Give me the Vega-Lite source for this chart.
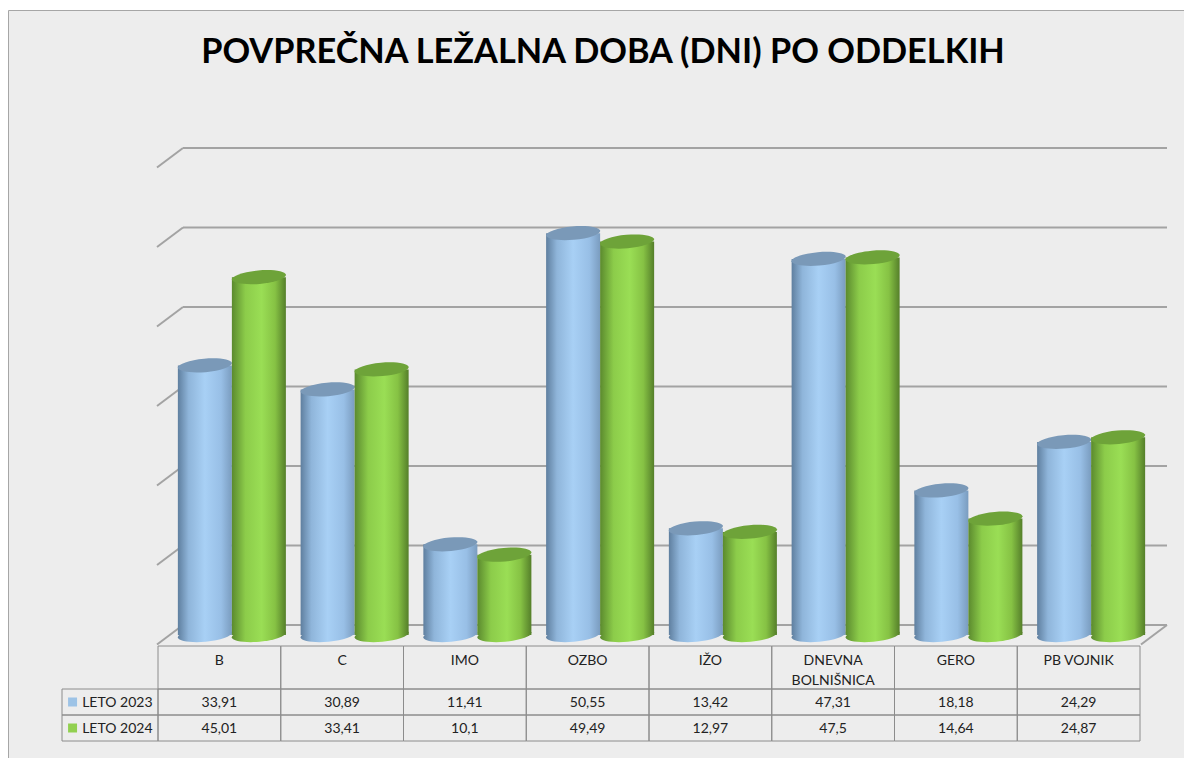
{
"$schema":"https://vega.github.io/schema/vega-lite/v6.json",
"width":1176,"height":748,
"autosize":{"type":"none"},
"padding":{"left":8,"top":10,"right":0,"bottom":0},
"background":"#ffffff",
"view":{"fill":"#ededed","stroke":"#a6a6a6","strokeWidth":1},
"config":{"locale":{"number":{"decimal":",","thousands":".","grouping":[3],"currency":["","€"]}}},
"title":{"text":"POVPREČNA LEŽALNA DOBA (DNI) PO ODDELKIH","font":"Lato","fontSize":34.3,"fontWeight":"bold","color":"#000000","anchor":"middle","dx":7,"offset":-60,"baseline":"top"},
"datasets":{
"oddelki":[
{"oddelek":"B","leto":"LETO 2023","vrednost":33.91},
{"oddelek":"C","leto":"LETO 2023","vrednost":30.89},
{"oddelek":"IMO","leto":"LETO 2023","vrednost":11.41},
{"oddelek":"OZBO","leto":"LETO 2023","vrednost":50.55},
{"oddelek":"IŽO","leto":"LETO 2023","vrednost":13.42},
{"oddelek":"DNEVNA\nBOLNIŠNICA","leto":"LETO 2023","vrednost":47.31},
{"oddelek":"GERO","leto":"LETO 2023","vrednost":18.18},
{"oddelek":"PB VOJNIK","leto":"LETO 2023","vrednost":24.29},
{"oddelek":"B","leto":"LETO 2024","vrednost":45.01},
{"oddelek":"C","leto":"LETO 2024","vrednost":33.41},
{"oddelek":"IMO","leto":"LETO 2024","vrednost":10.1},
{"oddelek":"OZBO","leto":"LETO 2024","vrednost":49.49},
{"oddelek":"IŽO","leto":"LETO 2024","vrednost":12.97},
{"oddelek":"DNEVNA\nBOLNIŠNICA","leto":"LETO 2024","vrednost":47.5},
{"oddelek":"GERO","leto":"LETO 2024","vrednost":14.64},
{"oddelek":"PB VOJNIK","leto":"LETO 2024","vrednost":24.87}
],
"mreza":[{"v":0},{"v":10},{"v":20},{"v":30},{"v":40},{"v":50},{"v":60}]
},
"resolve":{"scale":{"x":"independent","y":"independent"}},
"layer":[
{"data":{"name":"mreza"},"mark":{"type":"rule","stroke":"#a3a3a3","strokeWidth":2},
 "encoding":{"x":{"datum":0,"type":"quantitative","scale":{"domain":[0,1],"range":[175,1159]},"axis":null},"x2":{"datum":1},
 "y":{"field":"v","type":"quantitative","scale":{"domain":[0,60],"range":[615,138]},"axis":null}}},
{"data":{"name":"mreza"},"mark":{"type":"point","shape":"M0,0L-1,0.75","size":2704,"filled":false,"stroke":"#a3a3a3","strokeWidth":2,"opacity":1},
 "encoding":{"x":{"datum":0,"type":"quantitative","scale":{"domain":[0,1],"range":[175,1159]},"axis":null},
 "y":{"field":"v","type":"quantitative","scale":{"domain":[0,60],"range":[615,138]},"axis":null}}},
{"data":{"name":"mreza"},"transform":[{"filter":"datum.v===0"}],"mark":{"type":"point","shape":"M0,0L-1,0.75","size":2704,"filled":false,"stroke":"#a3a3a3","strokeWidth":2,"opacity":1},
 "encoding":{"x":{"datum":1,"type":"quantitative","scale":{"domain":[0,1],"range":[175,1159]},"axis":null},
 "y":{"field":"v","type":"quantitative","scale":{"domain":[0,60],"range":[615,138]},"axis":null}}},

{"data":{"name":"oddelki"},"transform":[{"filter":"datum.leto==='LETO 2023'"}],"mark":{"type":"point","shape":"M-1,0.09A1.005,0.26,-5,0,0,1,-0.09A1.005,0.26,-5,0,0,-1,0.09Z","size":2950,"filled":true,"opacity":1,"fill":{"gradient":"linear","x1":0,"x2":1,"y1":0,"y2":0,"stops":[{"offset":0,"color":"#5f7f9f"},{"offset":0.2,"color":"#8fb5da"},{"offset":0.5,"color":"#a8d0f5"},{"offset":0.8,"color":"#98bfe6"},{"offset":1,"color":"#7a9cbf"}]}},
 "encoding":{"x":{"field":"oddelek","type":"nominal","scale":{"type":"band","domain":["B","C","IMO","OZBO","IŽO","DNEVNA\nBOLNIŠNICA","GERO","PB VOJNIK"],"range":[162.5,1144.5],"paddingInner":0.12,"paddingOuter":0.06},"axis":null},
 "xOffset":{"field":"leto","type":"nominal","scale":{"domain":["LETO 2023","LETO 2024"],"paddingInner":0,"paddingOuter":0}},
 "y":{"datum":0,"type":"quantitative","scale":{"domain":[0,60],"range":[625,148]},"axis":null}}},
{"data":{"name":"oddelki"},"transform":[{"filter":"datum.leto==='LETO 2023'"}],"mark":{"type":"bar","fill":{"gradient":"linear","x1":0,"x2":1,"y1":0,"y2":0,"stops":[{"offset":0,"color":"#5f7f9f"},{"offset":0.2,"color":"#8fb5da"},{"offset":0.5,"color":"#a8d0f5"},{"offset":0.8,"color":"#98bfe6"},{"offset":1,"color":"#7a9cbf"}]}},
 "encoding":{"x":{"field":"oddelek","type":"nominal","scale":{"type":"band","domain":["B","C","IMO","OZBO","IŽO","DNEVNA\nBOLNIŠNICA","GERO","PB VOJNIK"],"range":[162.5,1144.5],"paddingInner":0.12,"paddingOuter":0.06},"axis":null},
 "xOffset":{"field":"leto","type":"nominal","scale":{"domain":["LETO 2023","LETO 2024"],"paddingInner":0,"paddingOuter":0}},
 "y":{"field":"vrednost","type":"quantitative","scale":{"domain":[0,60],"range":[625,148]},"axis":null}}},
{"data":{"name":"oddelki"},"transform":[{"filter":"datum.leto==='LETO 2023'"}],"mark":{"type":"point","shape":"M-1,0.09A1.005,0.26,-5,0,0,1,-0.09A1.005,0.26,-5,0,0,-1,0.09Z","size":2950,"filled":true,"opacity":1,"fill":"#7a99b8"},
 "encoding":{"x":{"field":"oddelek","type":"nominal","scale":{"type":"band","domain":["B","C","IMO","OZBO","IŽO","DNEVNA\nBOLNIŠNICA","GERO","PB VOJNIK"],"range":[162.5,1144.5],"paddingInner":0.12,"paddingOuter":0.06},"axis":null},
 "xOffset":{"field":"leto","type":"nominal","scale":{"domain":["LETO 2023","LETO 2024"],"paddingInner":0,"paddingOuter":0}},
 "y":{"field":"vrednost","type":"quantitative","scale":{"domain":[0,60],"range":[625,148]},"axis":null}}},

{"data":{"name":"oddelki"},"transform":[{"filter":"datum.leto==='LETO 2024'"}],"mark":{"type":"point","shape":"M-1,0.09A1.005,0.26,-5,0,0,1,-0.09A1.005,0.26,-5,0,0,-1,0.09Z","size":2950,"filled":true,"opacity":1,"fill":{"gradient":"linear","x1":0,"x2":1,"y1":0,"y2":0,"stops":[{"offset":0,"color":"#5b8a2e"},{"offset":0.25,"color":"#8ccc4a"},{"offset":0.55,"color":"#9ade55"},{"offset":0.8,"color":"#86c244"},{"offset":1,"color":"#557f2a"}]}},
 "encoding":{"x":{"field":"oddelek","type":"nominal","scale":{"type":"band","domain":["B","C","IMO","OZBO","IŽO","DNEVNA\nBOLNIŠNICA","GERO","PB VOJNIK"],"range":[162.5,1144.5],"paddingInner":0.12,"paddingOuter":0.06},"axis":null},
 "xOffset":{"field":"leto","type":"nominal","scale":{"domain":["LETO 2023","LETO 2024"],"paddingInner":0,"paddingOuter":0}},
 "y":{"datum":0,"type":"quantitative","scale":{"domain":[0,60],"range":[625,148]},"axis":null}}},
{"data":{"name":"oddelki"},"transform":[{"filter":"datum.leto==='LETO 2024'"}],"mark":{"type":"bar","fill":{"gradient":"linear","x1":0,"x2":1,"y1":0,"y2":0,"stops":[{"offset":0,"color":"#5b8a2e"},{"offset":0.25,"color":"#8ccc4a"},{"offset":0.55,"color":"#9ade55"},{"offset":0.8,"color":"#86c244"},{"offset":1,"color":"#557f2a"}]}},
 "encoding":{"x":{"field":"oddelek","type":"nominal","scale":{"type":"band","domain":["B","C","IMO","OZBO","IŽO","DNEVNA\nBOLNIŠNICA","GERO","PB VOJNIK"],"range":[162.5,1144.5],"paddingInner":0.12,"paddingOuter":0.06},"axis":null},
 "xOffset":{"field":"leto","type":"nominal","scale":{"domain":["LETO 2023","LETO 2024"],"paddingInner":0,"paddingOuter":0}},
 "y":{"field":"vrednost","type":"quantitative","scale":{"domain":[0,60],"range":[625,148]},"axis":null}}},
{"data":{"name":"oddelki"},"transform":[{"filter":"datum.leto==='LETO 2024'"}],"mark":{"type":"point","shape":"M-1,0.09A1.005,0.26,-5,0,0,1,-0.09A1.005,0.26,-5,0,0,-1,0.09Z","size":2950,"filled":true,"opacity":1,"fill":"#6ea339"},
 "encoding":{"x":{"field":"oddelek","type":"nominal","scale":{"type":"band","domain":["B","C","IMO","OZBO","IŽO","DNEVNA\nBOLNIŠNICA","GERO","PB VOJNIK"],"range":[162.5,1144.5],"paddingInner":0.12,"paddingOuter":0.06},"axis":null},
 "xOffset":{"field":"leto","type":"nominal","scale":{"domain":["LETO 2023","LETO 2024"],"paddingInner":0,"paddingOuter":0}},
 "y":{"field":"vrednost","type":"quantitative","scale":{"domain":[0,60],"range":[625,148]},"axis":null}}},

{"data":{"name":"oddelki"},"transform":[{"filter":"datum.leto==='LETO 2023'"}],"mark":{"type":"rect","fill":null,"stroke":"#8c8c8c","strokeWidth":1},
 "encoding":{"x":{"field":"oddelek","type":"nominal","scale":{"type":"band","domain":["B","C","IMO","OZBO","IŽO","DNEVNA\nBOLNIŠNICA","GERO","PB VOJNIK"],"range":[150,1132],"paddingInner":0,"paddingOuter":0},"axis":null},
 "y":{"datum":"glava","type":"nominal","scale":{"type":"band","domain":["glava"],"range":[636,679],"paddingInner":0,"paddingOuter":0},"axis":null}}},
{"data":{"name":"oddelki"},"mark":{"type":"rect","fill":null,"stroke":"#8c8c8c","strokeWidth":1},
 "encoding":{"x":{"field":"oddelek","type":"nominal","scale":{"type":"band","domain":["B","C","IMO","OZBO","IŽO","DNEVNA\nBOLNIŠNICA","GERO","PB VOJNIK"],"range":[150,1132],"paddingInner":0,"paddingOuter":0},"axis":null},
 "y":{"field":"leto","type":"nominal","scale":{"type":"band","domain":["LETO 2023","LETO 2024"],"range":[679,731],"paddingInner":0,"paddingOuter":0},"axis":null}}},
{"data":{"name":"oddelki"},"transform":[{"filter":"datum.oddelek==='B'"}],"mark":{"type":"rect","fill":null,"stroke":"#8c8c8c","strokeWidth":1},
 "encoding":{"x":{"datum":"stolpec","type":"nominal","scale":{"type":"band","domain":["stolpec"],"range":[54,150],"paddingInner":0,"paddingOuter":0},"axis":null},
 "y":{"field":"leto","type":"nominal","scale":{"type":"band","domain":["LETO 2023","LETO 2024"],"range":[679,731],"paddingInner":0,"paddingOuter":0},"axis":null}}},

{"data":{"name":"oddelki"},"transform":[{"filter":"datum.leto==='LETO 2023'"}],"mark":{"type":"text","font":"Lato","fontSize":14,"color":"#222222","align":"center","baseline":"top","dy":8,"lineBreak":"\n","lineHeight":20},
 "encoding":{"x":{"field":"oddelek","type":"nominal","scale":{"type":"band","domain":["B","C","IMO","OZBO","IŽO","DNEVNA\nBOLNIŠNICA","GERO","PB VOJNIK"],"range":[150,1132],"paddingInner":0,"paddingOuter":0},"axis":null},
 "y":{"datum":"glava","type":"nominal","bandPosition":0,"scale":{"type":"band","domain":["glava"],"range":[636,679],"paddingInner":0,"paddingOuter":0},"axis":null},
 "text":{"field":"oddelek"}}},
{"data":{"name":"oddelki"},"mark":{"type":"text","font":"Lato","fontSize":14,"color":"#222222","align":"center","baseline":"middle","dy":1},
 "encoding":{"x":{"field":"oddelek","type":"nominal","scale":{"type":"band","domain":["B","C","IMO","OZBO","IŽO","DNEVNA\nBOLNIŠNICA","GERO","PB VOJNIK"],"range":[150,1132],"paddingInner":0,"paddingOuter":0},"axis":null},
 "y":{"field":"leto","type":"nominal","scale":{"type":"band","domain":["LETO 2023","LETO 2024"],"range":[679,731],"paddingInner":0,"paddingOuter":0},"axis":null},
 "text":{"field":"vrednost","type":"quantitative","format":".2~f"}}},
{"data":{"name":"oddelki"},"transform":[{"filter":"datum.oddelek==='B'"}],"mark":{"type":"text","font":"Lato","fontSize":14,"color":"#222222","align":"left","baseline":"middle","dy":1},
 "encoding":{"x":{"datum":"stolpec","type":"nominal","bandPosition":0.21,"scale":{"type":"band","domain":["stolpec"],"range":[54,150],"paddingInner":0,"paddingOuter":0},"axis":null},
 "y":{"field":"leto","type":"nominal","scale":{"type":"band","domain":["LETO 2023","LETO 2024"],"range":[679,731],"paddingInner":0,"paddingOuter":0},"axis":null},
 "text":{"field":"leto"}}},
{"data":{"name":"oddelki"},"transform":[{"filter":"datum.oddelek==='B' && datum.leto==='LETO 2023'"}],"mark":{"type":"point","shape":"square","size":81,"filled":true,"opacity":1,"fill":"#9dc3e6"},
 "encoding":{"x":{"datum":"stolpec","type":"nominal","bandPosition":0.11,"scale":{"type":"band","domain":["stolpec"],"range":[54,150],"paddingInner":0,"paddingOuter":0},"axis":null},
 "y":{"field":"leto","type":"nominal","scale":{"type":"band","domain":["LETO 2023","LETO 2024"],"range":[679,731],"paddingInner":0,"paddingOuter":0},"axis":null}}},
{"data":{"name":"oddelki"},"transform":[{"filter":"datum.oddelek==='B' && datum.leto==='LETO 2024'"}],"mark":{"type":"point","shape":"square","size":81,"filled":true,"opacity":1,"fill":"#92d050"},
 "encoding":{"x":{"datum":"stolpec","type":"nominal","bandPosition":0.11,"scale":{"type":"band","domain":["stolpec"],"range":[54,150],"paddingInner":0,"paddingOuter":0},"axis":null},
 "y":{"field":"leto","type":"nominal","scale":{"type":"band","domain":["LETO 2023","LETO 2024"],"range":[679,731],"paddingInner":0,"paddingOuter":0},"axis":null}}}
]
}
